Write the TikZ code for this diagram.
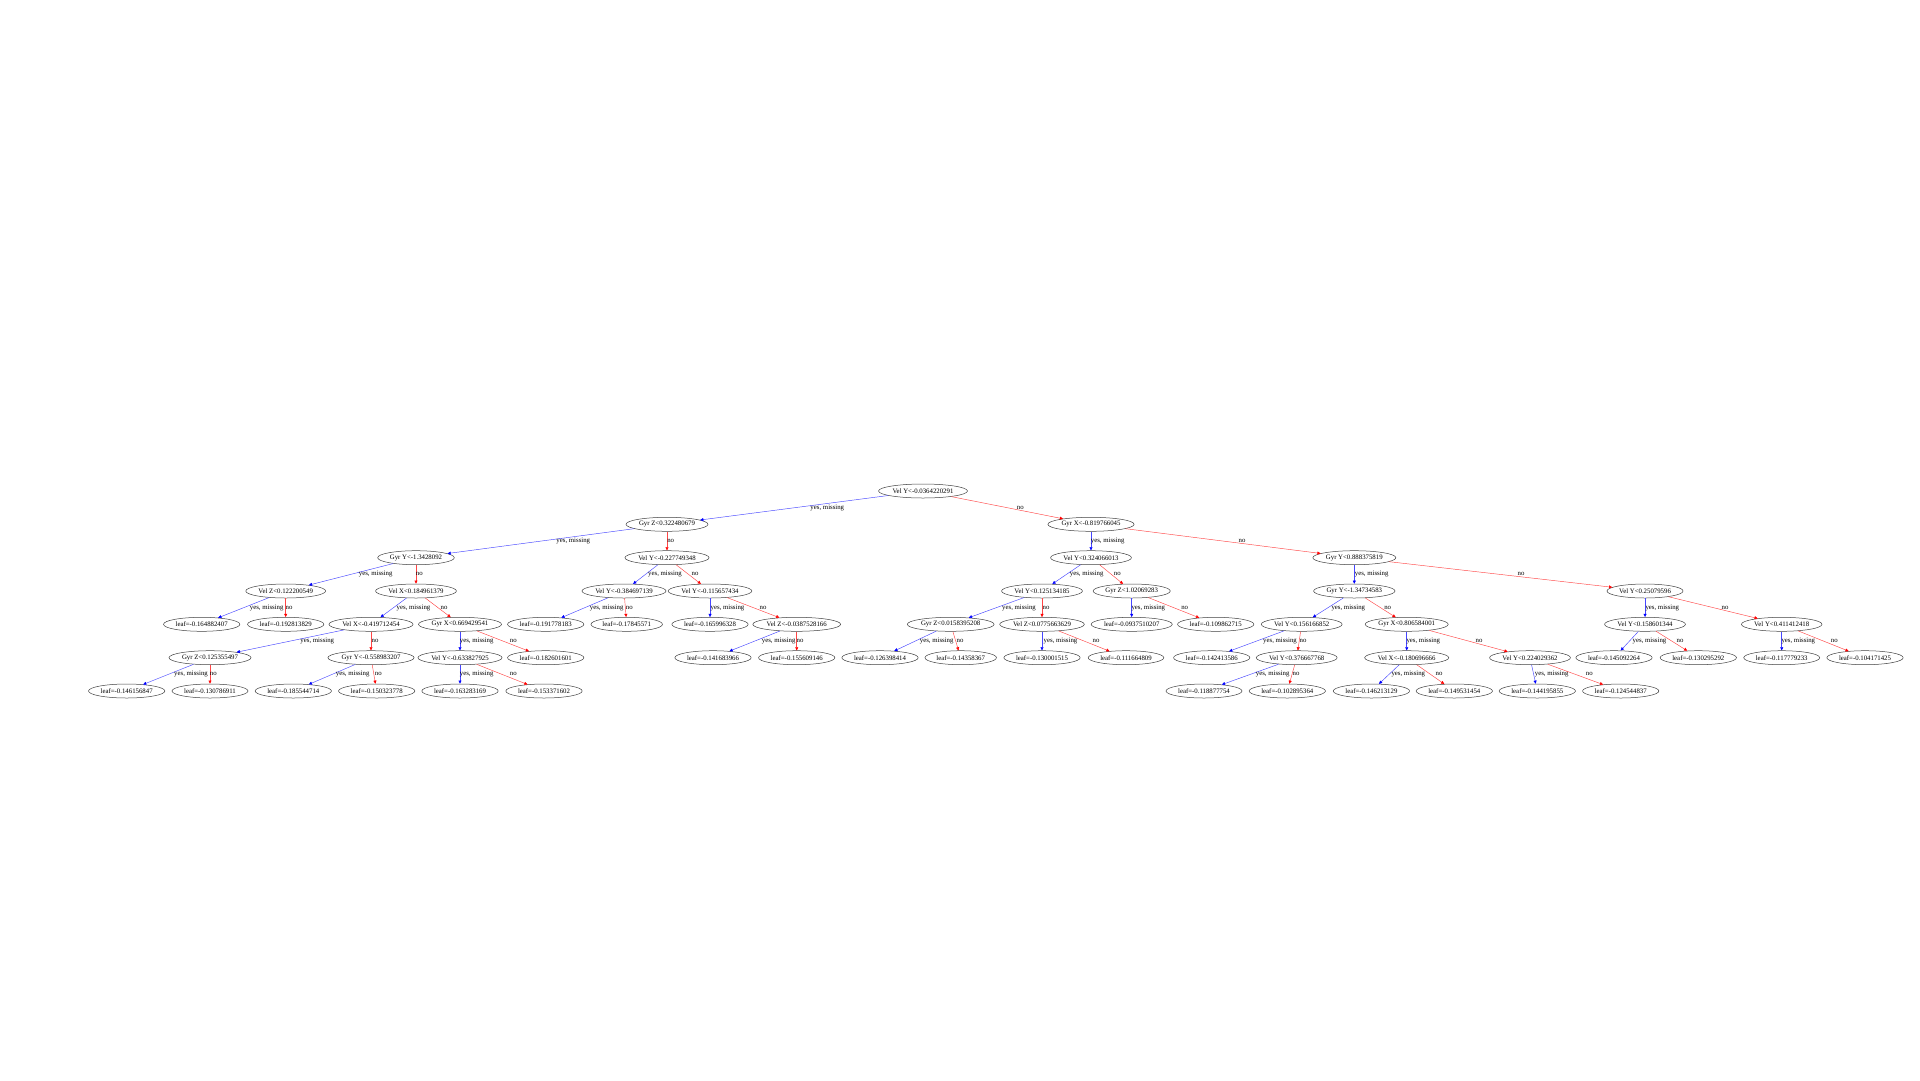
\documentclass[tikz,border=0pt]{standalone}
\usepackage{fontspec}
\setmainfont{Liberation Serif}
\usetikzlibrary{shapes.geometric,arrows.meta}
\newcommand\tfs{\fontsize{6.8}{8}\selectfont}
\tikzset{
  tn/.style={ellipse, draw=black!75, line width=0.5pt, inner xsep=1pt, inner ysep=1pt, minimum height=14pt, font=\tfs},
  yesarr/.style={draw={rgb,255:red,70;green,70;blue,255}, line width=0.45pt, -{Triangle[length=3.2pt,width=3pt,color=blue]}},
  noarr/.style={draw={rgb,255:red,255;green,70;blue,70}, line width=0.45pt, -{Triangle[length=3.2pt,width=3pt,color=red]}},
  lab/.style={font=\tfs, inner sep=0pt}
}
\newcommand\ey[3]{\draw[yesarr] (#1) -- (#2); \node[lab] (#1-#2) at (#3) {yes, missing};}
\newcommand\en[3]{\draw[noarr] (#1) -- (#2); \node[lab] (#1-#2) at (#3) {no};}
\begin{document}
\begin{tikzpicture}[x=1pt,y=-1pt]
\useasboundingbox (0,0) rectangle (1920,1080);
% level 0
\node[tn] (r) at (923,491) {Vel Y<-0.0364220291};
% level 1
\node[tn] (a) at (667,524.3) {Gyr Z<0.322480679};
\node[tn] (b) at (1091,524.3) {Gyr X<-0.819766045};
% level 2
\node[tn] (aa) at (416,557.7) {Gyr Y<-1.3428092};
\node[tn] (ab) at (667,557.7) {Vel Y<-0.227749348};
\node[tn] (ba) at (1091,557.7) {Vel Y<0.324066013};
\node[tn] (bb) at (1354.3,557.7) {Gyr Y<0.888375819};
% level 3
\node[tn] (aaa) at (285.7,591) {Vel Z<0.122200549};
\node[tn] (aab) at (416,591) {Vel X<0.184961379};
\node[tn] (aba) at (624,591) {Vel Y<-0.384697139};
\node[tn] (abb) at (710,591) {Vel Y<-0.115657434};
\node[tn] (baa) at (1042,591) {Vel Y<0.125134185};
\node[tn] (bab) at (1131.7,591) {Gyr Z<1.02069283};
\node[tn] (bba) at (1354.3,591) {Gyr Y<-1.34734583};
\node[tn] (bbb) at (1645,591) {Vel Y<0.25079596};
% level 4
\node[tn] (l1) at (201.7,624.3) {leaf=-0.164882407};
\node[tn] (l2) at (285.7,624.3) {leaf=-0.192813829};
\node[tn] (aaba) at (371,624.3) {Vel X<-0.419712454};
\node[tn] (aabb) at (460,624.3) {Gyr X<0.669429541};
\node[tn] (l3) at (545.7,624.3) {leaf=-0.191778183};
\node[tn] (l4) at (626.7,624.3) {leaf=-0.17845571};
\node[tn] (l5) at (710,624.3) {leaf=-0.165996328};
\node[tn] (abbb) at (796.7,624.3) {Vel Z<-0.0387528166};
\node[tn] (baaa) at (950.7,624.3) {Gyr Z<0.0158395208};
\node[tn] (baab) at (1042,624.3) {Vel Z<0.0775663629};
\node[tn] (l6) at (1131.7,624.3) {leaf=-0.0937510207};
\node[tn] (l7) at (1215.7,624.3) {leaf=-0.109862715};
\node[tn] (bbaa) at (1301.7,624.3) {Vel Y<0.156166852};
\node[tn] (bbab) at (1406.7,624.3) {Gyr X<0.806584001};
\node[tn] (bbba) at (1645,624.3) {Vel Y<0.158601344};
\node[tn] (bbbb) at (1781.7,624.3) {Vel Y<0.411412418};
% level 5
\node[tn] (aabaa) at (210,657.7) {Gyr Z<0.125355497};
\node[tn] (aabab) at (371,657.7) {Gyr Y<-0.558983207};
\node[tn] (aabba) at (460,657.7) {Vel Y<-0.633827925};
\node[tn] (l8) at (545.7,657.7) {leaf=-0.182601601};
\node[tn] (l9) at (713,657.7) {leaf=-0.141683966};
\node[tn] (l10) at (796.7,657.7) {leaf=-0.155609146};
\node[tn] (l11) at (880,657.7) {leaf=-0.126398414};
\node[tn] (l12) at (960.7,657.7) {leaf=-0.14358367};
\node[tn] (l13) at (1042,657.7) {leaf=-0.130001515};
\node[tn] (l14) at (1126,657.7) {leaf=-0.111664809};
\node[tn] (l15) at (1211.7,657.7) {leaf=-0.142413586};
\node[tn] (bbaab) at (1296.7,657.7) {Vel Y<0.376667768};
\node[tn] (bbaba) at (1406.7,657.7) {Vel X<-0.180696666};
\node[tn] (bbabb) at (1530,657.7) {Vel Y<0.224029362};
\node[tn] (l16) at (1614,657.7) {leaf=-0.145092264};
\node[tn] (l17) at (1698.3,657.7) {leaf=-0.130295292};
\node[tn] (l18) at (1781.7,657.7) {leaf=-0.117779233};
\node[tn] (l19) at (1865,657.7) {leaf=-0.104171425};
% level 6
\node[tn] (l20) at (126.7,691) {leaf=-0.146156847};
\node[tn] (l21) at (210,691) {leaf=-0.130786911};
\node[tn] (l22) at (293.3,691) {leaf=-0.185544714};
\node[tn] (l23) at (376.7,691) {leaf=-0.150323778};
\node[tn] (l24) at (460,691) {leaf=-0.163283169};
\node[tn] (l25) at (544,691) {leaf=-0.153371602};
\node[tn] (l26) at (1204,691) {leaf=-0.118877754};
\node[tn] (l27) at (1287.3,691) {leaf=-0.102895364};
\node[tn] (l28) at (1371.4,691) {leaf=-0.146213129};
\node[tn] (l29) at (1454.3,691) {leaf=-0.149531454};
\node[tn] (l30) at (1537.3,691) {leaf=-0.144195855};
\node[tn] (l31) at (1620.7,691) {leaf=-0.124544837};
% edges
\ey{r}{a}{827.3,507.7}
\en{r}{b}{1020.3,507.7}
\ey{a}{aa}{573.3,541}
\en{a}{ab}{670.7,541}
\ey{aa}{aaa}{375.7,574.3}
\en{aa}{aab}{419.3,574.3}
\ey{aaa}{l1}{266.7,607.7}
\en{aaa}{l2}{289,607.7}
\ey{aab}{aaba}{413.5,607.7}
\en{aab}{aabb}{444,607.7}
\ey{aaba}{aabaa}{317.3,641}
\en{aaba}{aabab}{375,641}
\ey{aabaa}{l20}{191,674.3}
\en{aabaa}{l21}{213.3,674.3}
\ey{aabab}{l22}{352.7,674.3}
\en{aabab}{l23}{378.3,674.3}
\ey{aabb}{aabba}{476.7,641}
\en{aabb}{l8}{513.3,641}
\ey{aabba}{l24}{476.7,674.3}
\en{aabba}{l25}{513.3,674.3}
\ey{ab}{aba}{665,574.3}
\en{ab}{abb}{695,574.3}
\ey{aba}{l3}{606.7,607.7}
\en{aba}{l4}{629.3,607.7}
\ey{abb}{l5}{727.5,607.7}
\en{abb}{abbb}{763,607.7}
\ey{abbb}{l9}{778.7,641}
\en{abbb}{l10}{800,641}
\ey{b}{ba}{1107.7,541}
\en{b}{bb}{1242,541}
\ey{ba}{baa}{1086.7,574.3}
\en{ba}{bab}{1117.3,574.3}
\ey{baa}{baaa}{1019,607.7}
\en{baa}{baab}{1046,607.7}
\ey{baaa}{l11}{936.7,641}
\en{baaa}{l12}{960,641}
\ey{baab}{l13}{1060.5,641}
\en{baab}{l14}{1096,641}
\ey{bab}{l6}{1148.3,607.7}
\en{bab}{l7}{1184.7,607.7}
\ey{bb}{bba}{1371.7,574.3}
\en{bb}{bbb}{1521,574.3}
\ey{bba}{bbaa}{1348.3,607.7}
\en{bba}{bbab}{1387.7,607.7}
\ey{bbaa}{l15}{1280,641}
\en{bbaa}{bbaab}{1303,641}
\ey{bbaab}{l26}{1272.7,674.3}
\en{bbaab}{l27}{1296,674.3}
\ey{bbab}{bbaba}{1423.3,641}
\en{bbab}{bbabb}{1479,641}
\ey{bbaba}{l28}{1408.3,674.3}
\en{bbaba}{l29}{1439,674.3}
\ey{bbabb}{l30}{1551.7,674.3}
\en{bbabb}{l31}{1589.3,674.3}
\ey{bbb}{bbba}{1662.3,607.7}
\en{bbb}{bbbb}{1725,607.7}
\ey{bbba}{l16}{1649.5,641}
\en{bbba}{l17}{1680,641}
\ey{bbbb}{l18}{1798.3,641}
\en{bbbb}{l19}{1834.3,641}
\end{tikzpicture}
\end{document}
